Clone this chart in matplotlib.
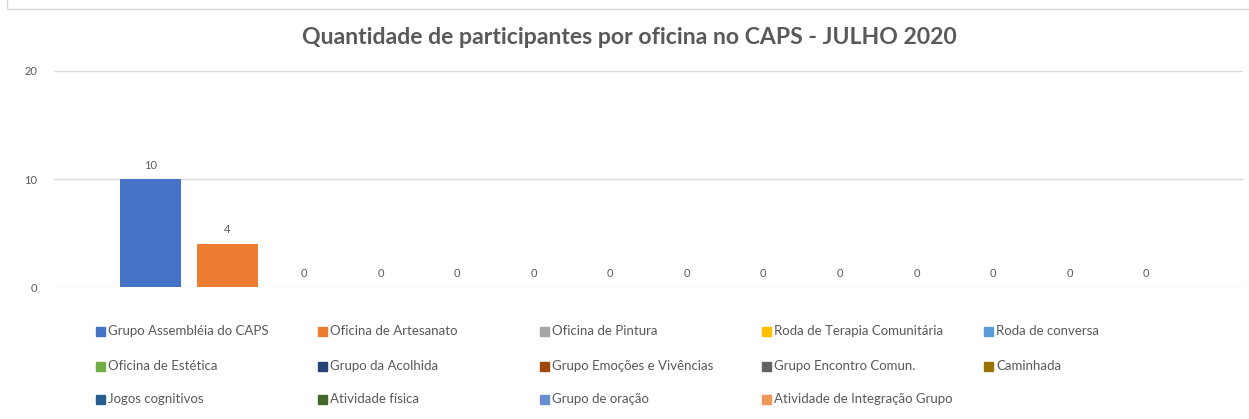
import matplotlib
matplotlib.use('Agg')
import matplotlib.pyplot as plt
from matplotlib.patches import Rectangle

# %% data
oficinas = [
    'Grupo Assembléia do CAPS', 'Oficina de Artesanato', 'Oficina de Pintura',
    'Roda de Terapia Comunitária', 'Roda de conversa', 'Oficina de Estética',
    'Grupo da Acolhida', 'Grupo Emoções e Vivências', 'Grupo Encontro Comun.',
    'Caminhada', 'Jogos cognitivos', 'Atividade física', 'Grupo de oração',
    'Atividade de Integração Grupo',
]
participantes = [10, 4, 0, 0, 0, 0, 0, 0, 0, 0, 0, 0, 0, 0]
cores = ['#4472C4', '#ED7D31', '#A5A5A5', '#FFC000', '#5B9BD5', '#70AD47', '#264478',
         '#9E480E', '#636363', '#997300', '#255E91', '#43682B', '#698ED0', '#F1975A']
titulo = 'Quantidade de participantes por oficina no CAPS - JULHO 2020'

# %% plot
W, H = 1249, 419
plt.rcParams['font.family'] = ['Lato', 'DejaVu Sans']
txt = '#595959'

fig = plt.figure(figsize=(W / 100, H / 100), dpi=100)
px = lambda x, y: (x / W, 1 - y / H)

# moldura do gráfico
fig.patches.append(Rectangle(px(7, 9), 1.0, 1 - 9 / H + 0.01, transform=fig.transFigure,
                             fill=False, edgecolor='#d9d9d9', lw=1, zorder=0))

ax = fig.add_axes([54 / W, 1 - 287 / H, (1243 - 54) / W, (287 - 71) / H])
for i, (nome, v, c) in enumerate(zip(oficinas, participantes, cores)):
    b = ax.bar(i, v, width=0.8, color=c, label=nome, zorder=3)
    ax.bar_label(b, padding=6, fontsize=8, color=txt)

ax.set_xlim(-1.264, len(oficinas) - 1 + 1.264)
ax.set_ylim(0, 20)
ax.set_yticks([0, 10, 20])
ax.set_xticks([])
ax.grid(axis='y', color='#d9d9d9', lw=1, zorder=0)
ax.tick_params(axis='y', length=0, labelsize=8, labelcolor=txt, pad=12)
for s in ax.spines.values():
    s.set_visible(False)

fig.text(629 / W, 1 - 38 / H, titulo, ha='center', va='center', fontsize=16.6,
         fontweight='bold', color=txt)

# legenda em linhas, como no Excel
linhas_y = [331, 366, 399]
for i, nome in enumerate(oficinas):
    x0 = 96 + (i % 5) * 222
    y0 = linhas_y[i // 5]
    fig.patches.append(Rectangle(px(x0, y0 + 4.5), 9 / W, 9 / H, transform=fig.transFigure,
                                 color=cores[i]))
    fig.text(*px(x0 + 12, y0), nome, ha='left', va='center', fontsize=9.5, color=txt)

fig.savefig('out.png', dpi=100)
